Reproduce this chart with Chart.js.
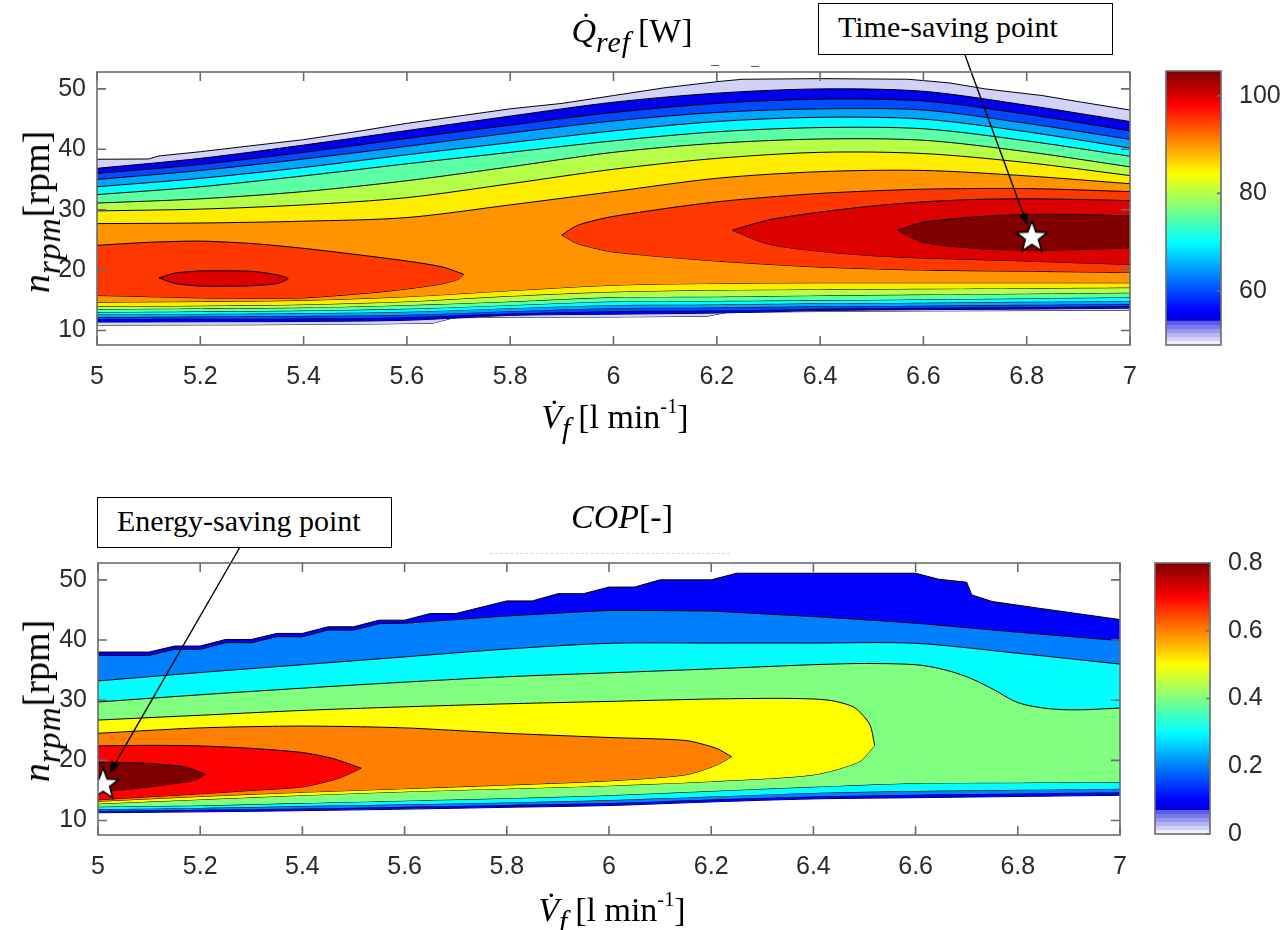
<!DOCTYPE html>
<html>
<head>
<meta charset="utf-8">
<script src="https://cdn.jsdelivr.net/npm/chart.js@4.4.1/dist/chart.umd.min.js"></script>
<style>
  body { margin: 0; background: #fff; }
  #page { position: relative; width: 1288px; height: 930px; overflow: hidden; }
  canvas { position: absolute; }
  .lbl { position: absolute; font-family: "Liberation Serif", "DejaVu Serif", serif; font-size: 34px;
         color: #000; white-space: nowrap; line-height: 1; transform: translate(-50%, 0); }
  .lbl sub { font-size: 0.88em; vertical-align: -0.32em; line-height: 0; letter-spacing: 1px; }
  .lbl sup { font-size: 0.6em; vertical-align: 0.75em; line-height: 0; }
  .rot { font-size: 38px; transform: translate(-50%, -50%) rotate(-90deg); }
  .note { position: absolute; border: 1.5px solid #000; background: #fff; box-sizing: border-box;
          font-family: "Liberation Serif", "DejaVu Serif", serif; font-size: 30px; padding-left: 19px;
          white-space: nowrap; }
  .speck { position: absolute; height: 0; }
</style>
</head>
<body>
<div id="page">
  <canvas id="qPlot" width="1288" height="465" style="left:0;top:0"></canvas>
  <canvas id="qBar" width="138" height="465" style="left:1150px;top:0"></canvas>
  <canvas id="copPlot" width="1288" height="465" style="left:0;top:465px"></canvas>
  <canvas id="copBar" width="149" height="465" style="left:1139px;top:465px"></canvas>

  <div class="lbl" style="left:632px;top:14px"><i>Q&#775;</i><sub><i>ref</i></sub>&#8201;[W]</div>
  <div class="lbl" style="left:615px;top:400px"><i>V&#775;</i><sub><i>f</i></sub>&#8201;[l min<sup>-1</sup>]</div>
  <div class="lbl rot" style="left:36px;top:212px"><i>n</i><sub><i>rpm</i></sub>[rpm]</div>
  <div class="note" style="left:818px;top:3px;width:295px;height:52px;line-height:46px">Time-saving point</div>
  <div class="speck" style="left:711px;top:65px;width:8px;border-top:1.5px solid #555"></div>
  <div class="speck" style="left:751px;top:66px;width:8px;border-top:1.5px solid #555"></div>

  <div class="lbl" style="left:622px;top:500px"><i>COP</i>[-]</div>
  <div class="lbl" style="left:612px;top:893px"><i>V&#775;</i><sub><i>f</i></sub>&#8201;[l min<sup>-1</sup>]</div>
  <div class="lbl rot" style="left:36px;top:701px"><i>n</i><sub><i>rpm</i></sub>[rpm]</div>
  <div class="note" style="left:97px;top:497px;width:295px;height:51px;line-height:45px">Energy-saving point</div>
  <div class="speck" style="left:490px;top:553px;width:240px;border-top:1px dashed #d8d8d8"></div>
</div>
<script>
// ---- axes ----
const flowGrid = [5, 5.2, 5.4, 5.6, 5.8, 6, 6.2, 6.4, 6.6, 6.8, 7];
const rpmTicks = [10, 20, 30, 40, 50];
const rpmRange = [7.6, 52.8];

// ---- cooling capacity Q_ref [W] ----
const qLevels = [50, 55, 60, 65, 70, 75, 80, 85, 90, 95, 100, 105];
const qBarRange = [48.9, 105.1];
const qBarTicks = [60, 80, 100];

// outermost contour (50 W), ragged upper and lower rims
const qRimX   = [5, 5.1, 5.12, 5.2, 5.3, 5.4, 5.5, 5.6, 5.7, 5.8, 5.9, 6.0, 6.1, 6.2, 6.25, 6.4, 6.57, 6.65, 6.72, 6.83, 6.9, 7];
const qRimTop = [38.35, 38.4, 38.9, 39.6, 40.6, 41.6, 42.9, 44.3, 45.5, 46.7, 47.6, 48.9, 50.2, 51.2, 51.6, 51.7, 51.6, 51.0, 50.0, 48.9, 47.9, 46.5];
const qFloorX = [5, 5.3, 5.5, 5.65, 5.69, 5.8, 6.0, 6.18, 6.22, 6.4, 6.6, 6.8, 7];
const qFloorY = [10.9, 10.95, 11.05, 11.2, 12.1, 12.2, 12.25, 12.35, 13.0, 13.15, 13.25, 13.3, 13.35];

// 55 .. 90 W contours on flowGrid (upper and lower branch)
const qUpper = [
  [36.85, 38.5, 40.7, 43.1, 45.5, 47.8, 49.3, 50.0, 49.6, 47.3, 44.6],
  [36.0, 37.5, 39.5, 41.8, 44.0, 46.1, 47.6, 48.3, 48.0, 45.8, 43.05],
  [35.0, 36.5, 38.4, 40.5, 42.7, 44.7, 46.1, 46.7, 46.5, 44.3, 41.65],
  [33.8, 35.2, 37.0, 39.1, 41.1, 43.05, 44.6, 45.3, 45.0, 42.9, 40.2],
  [32.5, 33.8, 35.6, 37.6, 39.5, 41.4, 42.9, 43.6, 43.4, 41.4, 38.85],
  [31.1, 31.8, 33.0, 34.8, 37.1, 39.5, 41.0, 41.7, 41.5, 39.6, 37.1],
  [29.8, 30.1, 30.8, 32.0, 34.3, 36.7, 38.5, 39.5, 39.3, 37.8, 35.65],
  [27.7, 27.8, 28.1, 28.7, 30.8, 33.0, 35.2, 36.3, 36.5, 35.6, 34.3]
];
const qLower = [
  [11.4, 11.45, 11.5, 11.7, 12.5, 12.7, 12.9, 13.3, 13.45, 13.55, 13.7],
  [11.9, 11.95, 12.0, 12.2, 12.8, 13.2, 13.3, 13.6, 13.75, 13.85, 14.0],
  [12.2, 12.3, 12.4, 12.6, 13.2, 13.7, 13.8, 14.0, 14.1, 14.25, 14.4],
  [12.65, 12.75, 12.85, 13.1, 13.7, 14.2, 14.3, 14.5, 14.6, 14.75, 14.9],
  [13.05, 13.15, 13.3, 13.6, 14.2, 14.8, 14.9, 15.0, 15.15, 15.3, 15.5],
  [13.55, 13.65, 13.8, 14.2, 14.8, 15.5, 15.6, 15.8, 15.95, 16.1, 16.25],
  [14.0, 14.1, 14.3, 14.8, 15.7, 16.4, 16.7, 16.8, 16.9, 17.0, 17.1],
  [14.7, 14.8, 15.0, 15.6, 16.6, 17.5, 17.8, 17.9, 17.9, 17.9, 17.9]
];

// 95 W: two lobes
const q95LeftTop = [[5, 24.1], [5.1, 24.6], [5.2, 24.8], [5.3, 24.4], [5.4, 23.6], [5.5, 22.6], [5.6, 21.5], [5.67, 20.5], [5.71, 19.3]];
const q95LeftBot = [[5, 15.8], [5.1, 15.6], [5.2, 15.4], [5.3, 15.3], [5.4, 15.4], [5.55, 16.4], [5.66, 17.6], [5.7, 18.5], [5.71, 19.3]];
const q95RightTop = [[5.9, 25.8], [5.93, 27.4], [6.0, 28.9], [6.2, 31.3], [6.4, 32.7], [6.6, 33.4], [6.8, 33.5], [7, 33.0]];
const q95RightBot = [[5.9, 25.8], [5.93, 24.4], [6.0, 23.0], [6.2, 21.5], [6.4, 20.5], [6.6, 20.0], [6.8, 19.8], [7, 19.6]];
// 100 W: small closed loop on the left, open lobe on the right
const q100Loop = [[5.12, 18.7], [5.15, 19.5], [5.2, 19.85], [5.3, 19.8], [5.35, 19.2], [5.37, 18.6], [5.35, 17.8], [5.3, 17.4], [5.2, 17.35], [5.15, 17.8], [5.12, 18.7]];
const q100RightTop = [[6.23, 26.6], [6.3, 28.3], [6.4, 29.6], [6.5, 30.6], [6.6, 31.3], [6.7, 31.7], [6.8, 31.8], [6.9, 31.7], [7, 31.5]];
const q100RightBot = [[6.23, 26.6], [6.3, 24.3], [6.4, 23.1], [6.5, 22.4], [6.6, 22.0], [6.8, 21.5], [6.9, 21.2], [7, 20.95]];
// 105 W core
const q105Top = [[6.55, 26.6], [6.6, 27.9], [6.7, 28.8], [6.8, 29.2], [6.9, 29.2], [7, 28.95]];
const q105Bot = [[6.55, 26.6], [6.6, 24.6], [6.7, 23.6], [6.8, 23.3], [6.9, 23.4], [7, 23.7]];
const timeSaving = { x: 6.81, y: 25.4 };

// ---- COP [-] ----
const copLevels = [0.1, 0.2, 0.3, 0.4, 0.5, 0.6, 0.7, 0.8];
const copBarRange = [0, 0.8];
const copBarTicks = [0, 0.2, 0.4, 0.6, 0.8];

const copRimX   = [5, 5.1, 5.15, 5.2, 5.25, 5.3, 5.35, 5.4, 5.45, 5.5, 5.55, 5.6, 5.65, 5.7, 5.8, 5.85, 5.9, 5.95, 6.0, 6.05, 6.1, 6.2, 6.25, 6.6, 6.645, 6.7, 6.71, 6.75, 6.84, 7];
const copRimTop = [38.0, 38.0, 39.0, 39.0, 40.1, 40.1, 41.1, 41.1, 42.2, 42.2, 43.3, 43.3, 44.4, 44.4, 46.5, 46.5, 47.7, 47.7, 48.8, 48.8, 50.0, 50.0, 51.1, 51.1, 50.1, 49.6, 47.5, 46.4, 45.3, 43.4];
const copBlueLow = [11.3, 11.45, 11.65, 11.9, 12.2, 12.5, 13.1, 13.6, 13.8, 14.0, 14.2];

const copAzureX   = [5, 5.1, 5.15, 5.2, 5.25, 5.3, 5.35, 5.4, 5.45, 5.5, 5.55, 5.6, 5.7, 5.8, 6.0, 6.2, 6.4, 6.6, 6.8, 7];
const copAzureTop = [37.45, 37.45, 38.45, 38.45, 39.55, 39.55, 40.55, 40.55, 41.65, 41.65, 42.7, 42.8, 43.4, 44.0, 44.9, 44.8, 43.9, 42.8, 41.3, 39.9];
const copAzureLow = [11.6, 11.8, 12.0, 12.3, 12.6, 12.9, 13.5, 14.0, 14.3, 14.5, 14.7];

const copCyanTop = [33.2, 34.6, 35.9, 37.2, 38.5, 39.45, 39.5, 39.5, 39.45, 37.8, 36.0];
const copCyanLow = [11.9, 12.1, 12.4, 12.7, 13.0, 13.4, 14.0, 14.6, 14.9, 15.1, 15.3];

const copGreenX   = [5, 5.2, 5.4, 5.6, 5.8, 6, 6.2, 6.4, 6.5, 6.6, 6.65, 6.7, 6.75, 6.8, 6.86, 6.92, 7];
const copGreenTop = [29.7, 30.9, 32.0, 33.0, 33.9, 34.55, 35.2, 35.9, 36.1, 35.9, 35.2, 33.9, 31.9, 29.6, 28.6, 28.4, 28.7];
const copGreenLow = [12.3, 12.5, 12.9, 13.3, 13.7, 14.2, 14.9, 15.6, 16.2, 16.3, 16.4];

const copYellowTop = [[5, 26.7], [5.2, 27.5], [5.4, 28.3], [5.6, 28.9], [5.8, 29.4], [6.0, 29.8], [6.2, 30.2], [6.35, 30.3], [6.43, 30.0], [6.48, 28.8], [6.51, 26.0], [6.52, 22.5]];
const copYellowBot = [[5, 12.8], [5.2, 13.5], [5.4, 14.2], [5.6, 14.8], [5.8, 15.3], [6.0, 15.8], [6.2, 16.5], [6.4, 17.6], [6.49, 19.8], [6.52, 22.5]];
const copOrangeTop = [[5, 24.5], [5.2, 25.4], [5.4, 25.7], [5.6, 25.4], [5.8, 24.5], [6.0, 23.8], [6.15, 23.3], [6.21, 22.0], [6.24, 20.6]];
const copOrangeBot = [[5, 13.2], [5.2, 14.0], [5.4, 14.7], [5.6, 15.3], [5.8, 15.9], [6.0, 16.6], [6.15, 17.6], [6.21, 19.2], [6.24, 20.6]];
const copRedTop = [[5, 22.4], [5.1, 22.5], [5.2, 22.4], [5.3, 22.0], [5.4, 21.3], [5.46, 20.3], [5.515, 18.7]];
const copRedBot = [[5, 13.45], [5.1, 13.95], [5.2, 14.45], [5.3, 15.0], [5.4, 15.6], [5.47, 17.0], [5.515, 18.7]];
const copPeakTop = [[5, 19.7], [5.1, 19.5], [5.17, 18.9], [5.21, 17.7]];
const copPeakBot = [[5, 14.7], [5.1, 15.6], [5.19, 16.7], [5.21, 17.7]];
const energySaving = { x: 5.01, y: 16.0 };

// ---- colour map: jet with a white fade at the low end ----
const FADE = 0.09;
function jet(t) {
  const c = v => Math.round(255 * Math.min(1, Math.max(0, v)));
  return [c(1.5 - Math.abs(4 * t - 3)), c(1.5 - Math.abs(4 * t - 2)), c(1.5 - Math.abs(4 * t - 1))];
}
function cmap(t) {
  if (t >= FADE) return jet(t);
  const k = Math.min(5, Math.floor(t / FADE * 6));
  const s = 0.7 * (k + 0.5) / 6;
  return jet(FADE).map(v => Math.round(255 + (v - 255) * s));
}
const rgb = c => `rgb(${c[0]},${c[1]},${c[2]})`;
const colorIn = range => v => rgb(cmap((v - range[0]) / (range[1] - range[0])));

// ---- helpers to turn the arrays into line datasets ----
const curve = (xs, ys) => xs.map((x, i) => ({ x, y: ys[i] }));
const pts = list => list.map(([x, y]) => ({ x, y }));

function contourSets(layers, colorOf) {
  const sets = [];
  layers.forEach((layer, k) => {
    const order = 1000 - k * 10;           // outer levels underneath
    const color = colorOf(layer.level);
    const tension = layer.tension ?? 0.3;
    if (layer.loop) {
      sets.push({ data: layer.loop, fill: 'shape', backgroundColor: color, order, tension });
    } else {
      const lowerIndex = sets.length + 1;
      sets.push({ data: layer.upper, fill: lowerIndex, backgroundColor: color, order, tension: layer.tu ?? tension });
      sets.push({ data: layer.lower, fill: false, order, tension: layer.tl ?? tension });
    }
  });
  return sets.map(s => ({ borderColor: '#000', borderWidth: 1, pointRadius: 0, ...s }));
}

function starImage(size) {
  const c = document.createElement('canvas');
  c.width = c.height = size;
  const g = c.getContext('2d');
  const r = size / 2 - 1.5, ri = r * 0.42, m = size / 2;
  g.beginPath();
  for (let i = 0; i < 10; i++) {
    const a = -Math.PI / 2 + i * Math.PI / 5, rr = i % 2 ? ri : r;
    g.lineTo(m + rr * Math.cos(a), m + rr * Math.sin(a));
  }
  g.closePath();
  g.fillStyle = '#fff'; g.fill();
  g.lineWidth = 1.6; g.strokeStyle = '#000'; g.stroke();
  return c;
}
const star = starImage(36);

// box with inward tick marks, MATLAB style
const frame = {
  id: 'frame',
  afterDraw(chart, args, o) {
    const { ctx, chartArea: a, scales } = chart;
    ctx.save();
    ctx.strokeStyle = '#6b6b6b';
    ctx.lineWidth = 1.6;
    ctx.strokeRect(a.left, a.top, a.right - a.left, a.bottom - a.top);
    ctx.beginPath();
    const L = o.len || 9;
    if (o.xTicks) scales.x.ticks.forEach(t => {
      const p = scales.x.getPixelForValue(t.value);
      ctx.moveTo(p, a.bottom); ctx.lineTo(p, a.bottom - L);
      ctx.moveTo(p, a.top); ctx.lineTo(p, a.top + L);
    });
    scales.y.ticks.forEach(t => {
      const p = scales.y.getPixelForValue(t.value);
      if (o.both) { ctx.moveTo(a.left, p); ctx.lineTo(a.left + L, p); }
      ctx.moveTo(a.right, p); ctx.lineTo(a.right - L, p);
    });
    ctx.stroke();
    ctx.restore();
  }
};

// arrow from an annotation box to a marked point
const callout = {
  id: 'callout',
  afterDatasetsDraw(chart, args, o) {
    if (!o.tail) return;
    const { ctx, scales: { x, y } } = chart;
    const hx = x.getPixelForValue(o.target.x), hy = y.getPixelForValue(o.target.y);
    const dx = hx - o.tail.x, dy = hy - o.tail.y, len = Math.hypot(dx, dy);
    const ux = dx / len, uy = dy / len;
    const tx = hx - ux * o.gap, ty = hy - uy * o.gap;
    ctx.save();
    ctx.strokeStyle = '#000'; ctx.fillStyle = '#000'; ctx.lineWidth = 1.4;
    ctx.beginPath(); ctx.moveTo(o.tail.x, o.tail.y); ctx.lineTo(tx - ux * 8, ty - uy * 8); ctx.stroke();
    ctx.beginPath();
    ctx.moveTo(tx, ty);
    ctx.lineTo(tx - ux * 13 + uy * 4.5, ty - uy * 13 - ux * 4.5);
    ctx.lineTo(tx - ux * 13 - uy * 4.5, ty - uy * 13 + ux * 4.5);
    ctx.closePath(); ctx.fill();
    ctx.restore();
  }
};

const tickFont = { family: '"Liberation Sans", Arial, sans-serif', size: 25 };
const tickColor = '#2b2b2b';

function plot(id, layers, range, mark, pad, yWidth, tail, gap) {
  const colorOf = colorIn(range);
  const datasets = contourSets(layers, colorOf);
  datasets.push({ data: [mark], showLine: false, pointStyle: star, pointRadius: 18, order: -1 });
  return new Chart(document.getElementById(id), {
    type: 'line',
    data: { datasets },
    options: {
      responsive: false, animation: false, events: [],
      layout: { padding: pad },
      plugins: { legend: { display: false }, tooltip: { enabled: false },
                 frame: { xTicks: true, both: true, len: 9 },
                 callout: { tail, target: mark, gap } },
      scales: {
        x: { type: 'linear', min: 5, max: 7,
             afterBuildTicks: s => { s.ticks = flowGrid.map(v => ({ value: v })); },
             afterFit: s => { s.height = 55; },
             grid: { drawOnChartArea: false, drawTicks: false }, border: { display: false },
             ticks: { font: tickFont, color: tickColor, padding: 17, maxRotation: 0, autoSkip: false, callback: v => String(v) } },
        y: { type: 'linear', min: rpmRange[0], max: rpmRange[1],
             afterBuildTicks: s => { s.ticks = rpmTicks.map(v => ({ value: v })); },
             afterFit: s => { s.width = yWidth; },
             grid: { drawOnChartArea: false, drawTicks: false }, border: { display: false },
             ticks: { font: tickFont, color: tickColor, padding: 11, callback: v => String(v) } }
      }
    },
    plugins: [frame, callout]
  });
}

function colorbar(id, range, ticks, pad, axisWidth) {
  return new Chart(document.getElementById(id), {
    type: 'bar',
    data: { labels: [''], datasets: [{
      data: [range],
      barPercentage: 1, categoryPercentage: 1, borderWidth: 0,
      backgroundColor: ctx => {
        const { chart } = ctx, a = chart.chartArea;
        if (!a) return '#fff';
        const g = chart.ctx.createLinearGradient(0, a.bottom, 0, a.top);
        for (let i = 0; i <= 400; i++) g.addColorStop(i / 400, rgb(cmap(i / 400)));
        return g;
      }
    }] },
    options: {
      responsive: false, animation: false, events: [],
      layout: { padding: pad },
      plugins: { legend: { display: false }, tooltip: { enabled: false }, frame: { xTicks: false, both: false, len: 4 } },
      scales: {
        x: { display: false },
        y: { position: 'right', min: range[0], max: range[1],
             afterBuildTicks: s => { s.ticks = ticks.map(v => ({ value: v })); },
             afterFit: s => { s.width = axisWidth; },
             grid: { display: false }, border: { display: false },
             ticks: { font: tickFont, color: tickColor, padding: 10, callback: v => String(v) } }
      }
    },
    plugins: [frame]
  });
}

// ---- cooling capacity ----
const qLayers = [{ level: qLevels[0], upper: curve(qRimX, qRimTop), lower: curve(qFloorX, qFloorY), tension: 0 }];
qUpper.forEach((row, i) => qLayers.push({ level: qLevels[i + 1], upper: curve(flowGrid, row), lower: curve(flowGrid, qLower[i]) }));
qLayers.push({ level: 95, upper: pts(q95LeftTop), lower: pts(q95LeftBot), tension: 0.25 });
qLayers.push({ level: 95, upper: pts(q95RightTop), lower: pts(q95RightBot), tension: 0.25 });
qLayers.push({ level: 100, loop: pts(q100Loop), tension: 0.2 });
qLayers.push({ level: 100, upper: pts(q100RightTop), lower: pts(q100RightBot), tension: 0.25 });
qLayers.push({ level: 105, upper: pts(q105Top), lower: pts(q105Bot), tension: 0.25 });

plot('qPlot', qLayers, qBarRange, timeSaving, { left: 0, top: 72, right: 158, bottom: 65 }, 97, { x: 965, y: 55 }, 12);
colorbar('qBar', qBarRange, qBarTicks, { left: 16, top: 71, right: 0, bottom: 120 }, 67);

// ---- COP ----
const copLayers = [
  { level: copLevels[0], upper: curve(copRimX, copRimTop), lower: curve(flowGrid, copBlueLow), tu: 0 },
  { level: copLevels[1], upper: curve(copAzureX, copAzureTop), lower: curve(flowGrid, copAzureLow), tu: 0.1 },
  { level: copLevels[2], upper: curve(flowGrid, copCyanTop), lower: curve(flowGrid, copCyanLow) },
  { level: copLevels[3], upper: curve(copGreenX, copGreenTop), lower: curve(flowGrid, copGreenLow) },
  { level: copLevels[4], upper: pts(copYellowTop), lower: pts(copYellowBot), tension: 0.25 },
  { level: copLevels[5], upper: pts(copOrangeTop), lower: pts(copOrangeBot), tension: 0.25 },
  { level: copLevels[6], upper: pts(copRedTop), lower: pts(copRedBot), tension: 0.25 },
  { level: copLevels[7], upper: pts(copPeakTop), lower: pts(copPeakBot), tension: 0.2 }
];

plot('copPlot', copLayers, copBarRange, energySaving, { left: 0, top: 98, right: 168, bottom: 40 }, 98, { x: 240, y: 82 }, 12);
colorbar('copBar', copBarRange, copBarTicks, { left: 16, top: 98, right: 0, bottom: 96 }, 78);
</script>
</body>
</html>
